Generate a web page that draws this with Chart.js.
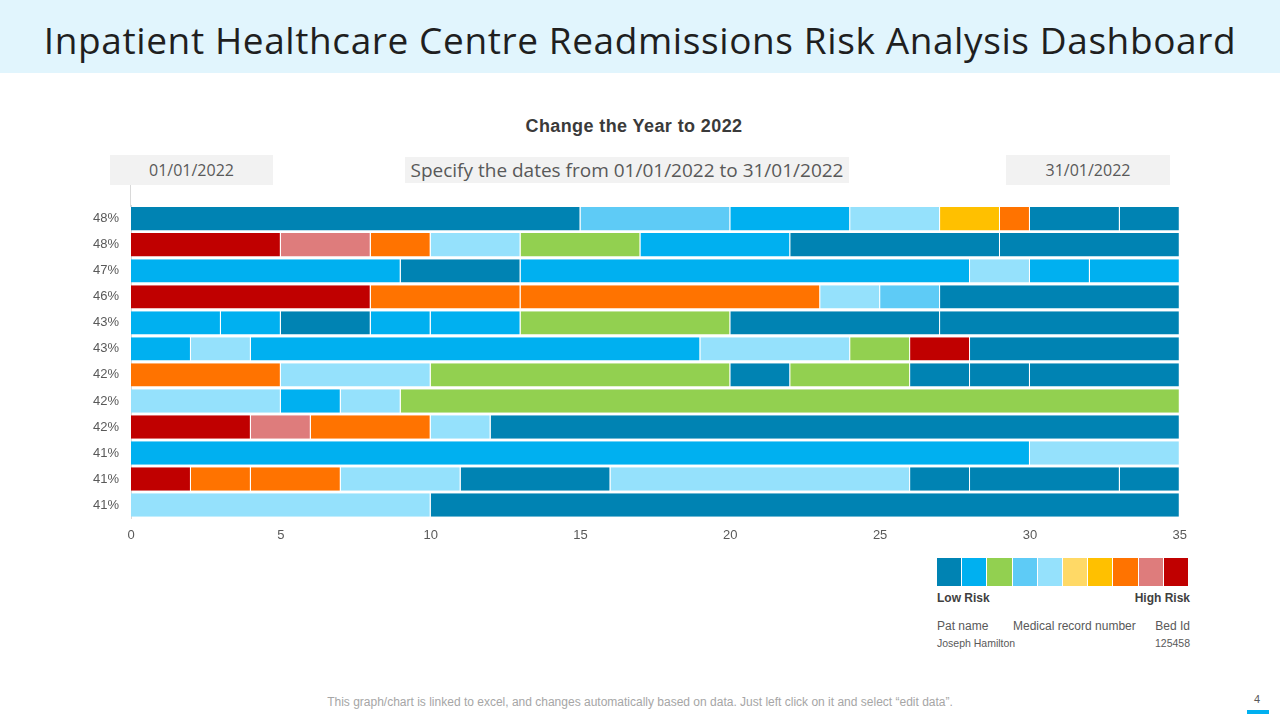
<!DOCTYPE html>
<html>
<head>
<meta charset="utf-8">
<script src="https://cdn.jsdelivr.net/npm/chart.js@4.4.1/dist/chart.umd.min.js"></script>
<style>
  html, body { margin: 0; padding: 0; background: #ffffff; }
  body { width: 1280px; height: 720px; position: relative; overflow: hidden; font-family: "Liberation Sans", Arial, sans-serif; }
  .header { position: absolute; left: 0; top: 0; width: 1280px; height: 73px; background: #e1f5fd; }
  .title { position: absolute; left: 0; top: 14px; width: 1280px; text-align: center; font-family: "Open Sans", sans-serif; font-size: 37px; color: #1f1f1f; white-space: nowrap; letter-spacing: 0.6px; }
  .sub { position: absolute; left: 0; top: 116px; width: 1268px; text-align: center; font-family: "Liberation Sans", Arial, sans-serif; font-weight: bold; font-size: 18px; letter-spacing: 0.4px; color: #3a3a3a; }
  .box { position: absolute; background: #f2f2f2; color: #595959; text-align: center; font-family: "Open Sans", sans-serif; }
  .axisext { position: absolute; left: 130px; top: 185px; width: 1px; height: 22px; background: #d9d9d9; }
  #wrap { position: absolute; left: 40px; top: 186px; width: 1157px; height: 362px; }
  .legend { position: absolute; left: 937px; top: 558px; height: 28px; display: flex; gap: 1px; }
  .legend div { width: 24.2px; height: 28px; }
  .txt { position: absolute; color: #404040; white-space: nowrap; font-family: "Liberation Sans", Arial, sans-serif; }
  .foot { position: absolute; left: 0; width: 1280px; top: 695px; text-align: center; font-size: 12px; color: #a6a6a6; font-family: "Liberation Sans", Arial, sans-serif; }
</style>
</head>
<body>
<div class="header"></div>
<div class="title">Inpatient Healthcare Centre Readmissions Risk Analysis Dashboard</div>
<div class="sub">Change the Year to 2022</div>
<div class="box" style="left:110px;top:155px;width:163px;height:30px;line-height:30px;font-size:16px;">01/01/2022</div>
<div class="box" style="left:405px;top:157px;width:444px;height:26px;line-height:26px;font-size:19px;">Specify the dates from 01/01/2022 to 31/01/2022</div>
<div class="box" style="left:1006px;top:155px;width:164px;height:30px;line-height:30px;font-size:16px;">31/01/2022</div>
<div class="axisext"></div>
<div id="wrap"><canvas id="c"></canvas></div>
<div class="legend" id="legend"></div>
<div class="txt" style="left:937px;top:591px;font-size:12px;font-weight:bold;">Low Risk</div>
<div class="txt" style="left:1090px;top:591px;width:100px;text-align:right;font-size:12px;font-weight:bold;">High Risk</div>
<div class="txt" style="left:937px;top:619px;font-size:12px;color:#595959;">Pat name</div>
<div class="txt" style="left:1013px;top:619px;font-size:12px;color:#595959;">Medical record number</div>
<div class="txt" style="left:1130px;top:619px;width:60px;text-align:right;font-size:12px;color:#595959;">Bed Id</div>
<div class="txt" style="left:937px;top:637px;font-size:10.5px;color:#595959;">Joseph Hamilton</div>
<div class="txt" style="left:1130px;top:637px;width:60px;text-align:right;font-size:10.5px;color:#595959;">125458</div>
<div class="foot">This graph/chart is linked to excel,  and changes automatically based on data. Just left click on it and select “edit data”.</div>
<div class="txt" style="left:1250px;top:693px;width:14px;text-align:center;font-size:11px;color:#595959;">4</div>
<div style="position:absolute;left:1247px;top:710px;width:22px;height:4px;background:#00b0f0;"></div>
<script>
// Row labels (top to bottom)
const categories = ['48%','48%','47%','46%','43%','43%','42%','42%','42%','41%','41%','41%'];
// Segment widths for each row (left to right)
const segmentWidths = [
  [15,5,4,3,2,1,3,2],
  [5,3,2,3,4,5,7,6],
  [9,4,15,2,2,3],
  [8,5,10,2,2,8],
  [3,2,3,2,3,7,7,8],
  [2,2,15,5,2,2,7],
  [5,5,10,2,4,2,2,5],
  [5,2,2,26],
  [4,2,4,2,23],
  [30,5],
  [2,2,3,4,5,10,2,5,2],
  [10,25]
];
// Risk colour key of each segment
const segmentRisk = [
  ['D','S','B','L','O','R','D','D'],
  ['X','P','R','L','G','B','D','D'],
  ['B','D','B','L','B','B'],
  ['X','R','R','L','S','D'],
  ['B','B','D','B','B','G','D','D'],
  ['B','L','B','L','G','X','D'],
  ['R','L','G','D','G','D','D','D'],
  ['L','B','L','G'],
  ['X','P','R','L','D'],
  ['B','L'],
  ['X','R','R','L','D','L','D','D','D'],
  ['L','D']
];
// Risk scale, low to high
const riskKeys = ['D','B','G','S','L','Y','O','R','P','X'];
const riskColors = ['#0083b3','#00b0f0','#92d050','#5ecbf6','#95e1fc','#ffd966','#ffc000','#ff7300','#de7c7c','#c00000'];
const xTicks = [0,5,10,15,20,25,30,35];

const colorOf = k => riskColors[riskKeys.indexOf(k)];
const maxSeg = Math.max(...segmentWidths.map(r => r.length));
const datasets = [];
for (let k = 0; k < maxSeg; k++) {
  datasets.push({
    data: segmentWidths.map(r => r[k] || 0),
    backgroundColor: segmentRisk.map(r => r[k] ? colorOf(r[k]) : 'rgba(0,0,0,0)'),
    borderColor: '#ffffff',
    borderWidth: {left: 0, right: 1, top: 0, bottom: 0},
    borderSkipped: false,
    categoryPercentage: 1.0,
    barPercentage: 0.9
  });
}

const legend = document.getElementById('legend');
riskColors.forEach(c => { const d = document.createElement('div'); d.style.background = c; legend.appendChild(d); });

new Chart(document.getElementById('c'), {
  type: 'bar',
  data: { labels: categories, datasets },
  options: {
    indexAxis: 'y',
    responsive: true,
    maintainAspectRatio: false,
    animation: false,
    layout: { padding: { left: 0, right: 11, top: 0, bottom: 0 } },
    plugins: { legend: { display: false }, tooltip: { enabled: false } },
    scales: {
      x: {
        stacked: true, min: 0, max: 35,
        afterBuildTicks: s => { s.ticks = xTicks.map(v => ({ value: v })); },
        afterFit: s => { s.height = 30; },
        grid: { display: false, drawTicks: false },
        border: { display: false },
        ticks: { color: '#595959', font: { family: 'Liberation Sans', size: 13 }, padding: 10 }
      },
      y: {
        stacked: true,
        afterFit: s => { s.width = 91; },
        grid: { display: false, drawTicks: false },
        border: { display: true, color: '#d9d9d9', width: 1 },
        ticks: { color: '#595959', font: { family: 'Liberation Sans', size: 13 }, padding: 12 }
      }
    }
  }
});
</script>
</body>
</html>
